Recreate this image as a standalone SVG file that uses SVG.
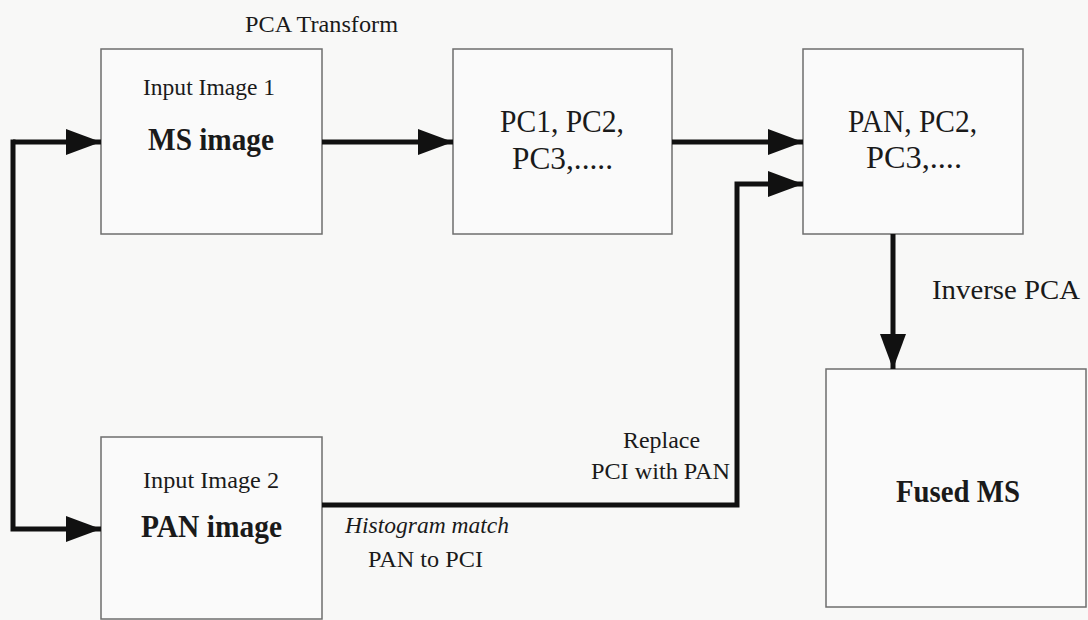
<svg xmlns="http://www.w3.org/2000/svg" width="1088" height="620" viewBox="0 0 1088 620">
  <style>
    .box { fill: #fafafa; stroke: #6e6e6e; stroke-width: 1.5; }
    .t { font-family: "Liberation Serif", "Times New Roman", serif; fill: #1a1a1a; }
    .b { font-weight: bold; }
    .conn { fill: none; stroke: #111; stroke-width: 5; stroke-linejoin: miter; }
  </style>
  <defs>
    <marker id="ah" markerUnits="userSpaceOnUse" markerWidth="38" markerHeight="28" refX="35" refY="13" orient="auto">
      <path d="M0,0 L35,13 L0,26 Z" fill="#111"/>
    </marker>
  </defs>
  <rect x="0" y="0" width="1088" height="620" fill="#f8f8f7"/>

  <text class="t" x="245" y="32" font-size="24" textLength="153" lengthAdjust="spacingAndGlyphs">PCA Transform</text>

  <g id="node-ms">
    <rect class="box" x="101" y="49" width="221" height="185"/>
    <text class="t" x="143" y="95" font-size="23" textLength="132" lengthAdjust="spacingAndGlyphs">Input Image 1</text>
    <text class="t b" x="148" y="150" font-size="31" textLength="126" lengthAdjust="spacingAndGlyphs">MS image</text>
  </g>

  <g id="node-pc">
    <rect class="box" x="453" y="49" width="219" height="185"/>
    <text class="t" x="500" y="132" font-size="31" textLength="124" lengthAdjust="spacingAndGlyphs">PC1, PC2,</text>
    <text class="t" x="512" y="169" font-size="31" textLength="101" lengthAdjust="spacingAndGlyphs">PC3,.....</text>
  </g>

  <g id="node-panpc">
    <rect class="box" x="803" y="49" width="220" height="185"/>
    <text class="t" x="848" y="132" font-size="31" textLength="129" lengthAdjust="spacingAndGlyphs">PAN, PC2,</text>
    <text class="t" x="866" y="168" font-size="31" textLength="96" lengthAdjust="spacingAndGlyphs">PC3,....</text>
  </g>

  <g id="node-pan">
    <rect class="box" x="101" y="437" width="221" height="182"/>
    <text class="t" x="143" y="488" font-size="23" textLength="136" lengthAdjust="spacingAndGlyphs">Input Image 2</text>
    <text class="t b" x="141" y="537" font-size="31" textLength="141" lengthAdjust="spacingAndGlyphs">PAN image</text>
  </g>

  <g id="node-fused">
    <rect class="box" x="826" y="369" width="260" height="238"/>
    <text class="t b" x="896" y="502" font-size="31" textLength="124" lengthAdjust="spacingAndGlyphs">Fused MS</text>
  </g>

  <g id="connectors">
    <path class="conn" d="M13,142 L101,142" marker-end="url(#ah)"/>
    <path class="conn" d="M13,139.5 L13,529 L101,529" marker-end="url(#ah)"/>
    <line class="conn" x1="322" y1="142" x2="453" y2="142" marker-end="url(#ah)"/>
    <line class="conn" x1="672" y1="142" x2="803" y2="142" marker-end="url(#ah)"/>
    <polyline class="conn" points="322,505 737,505 737,184 803,184" marker-end="url(#ah)"/>
    <line class="conn" x1="893" y1="234" x2="893" y2="369" marker-end="url(#ah)"/>
    <text class="t" x="932" y="299" font-size="27" textLength="148" lengthAdjust="spacingAndGlyphs">Inverse PCA</text>
    <text class="t" x="623" y="448" font-size="23" textLength="77" lengthAdjust="spacingAndGlyphs">Replace</text>
    <text class="t" x="591" y="479" font-size="23" textLength="139" lengthAdjust="spacingAndGlyphs">PCI with PAN</text>
    <text class="t" x="345" y="533" font-size="23" font-style="italic" textLength="164" lengthAdjust="spacingAndGlyphs">Histogram match</text>
    <text class="t" x="368" y="567" font-size="23" textLength="115" lengthAdjust="spacingAndGlyphs">PAN to PCI</text>
  </g>
</svg>
